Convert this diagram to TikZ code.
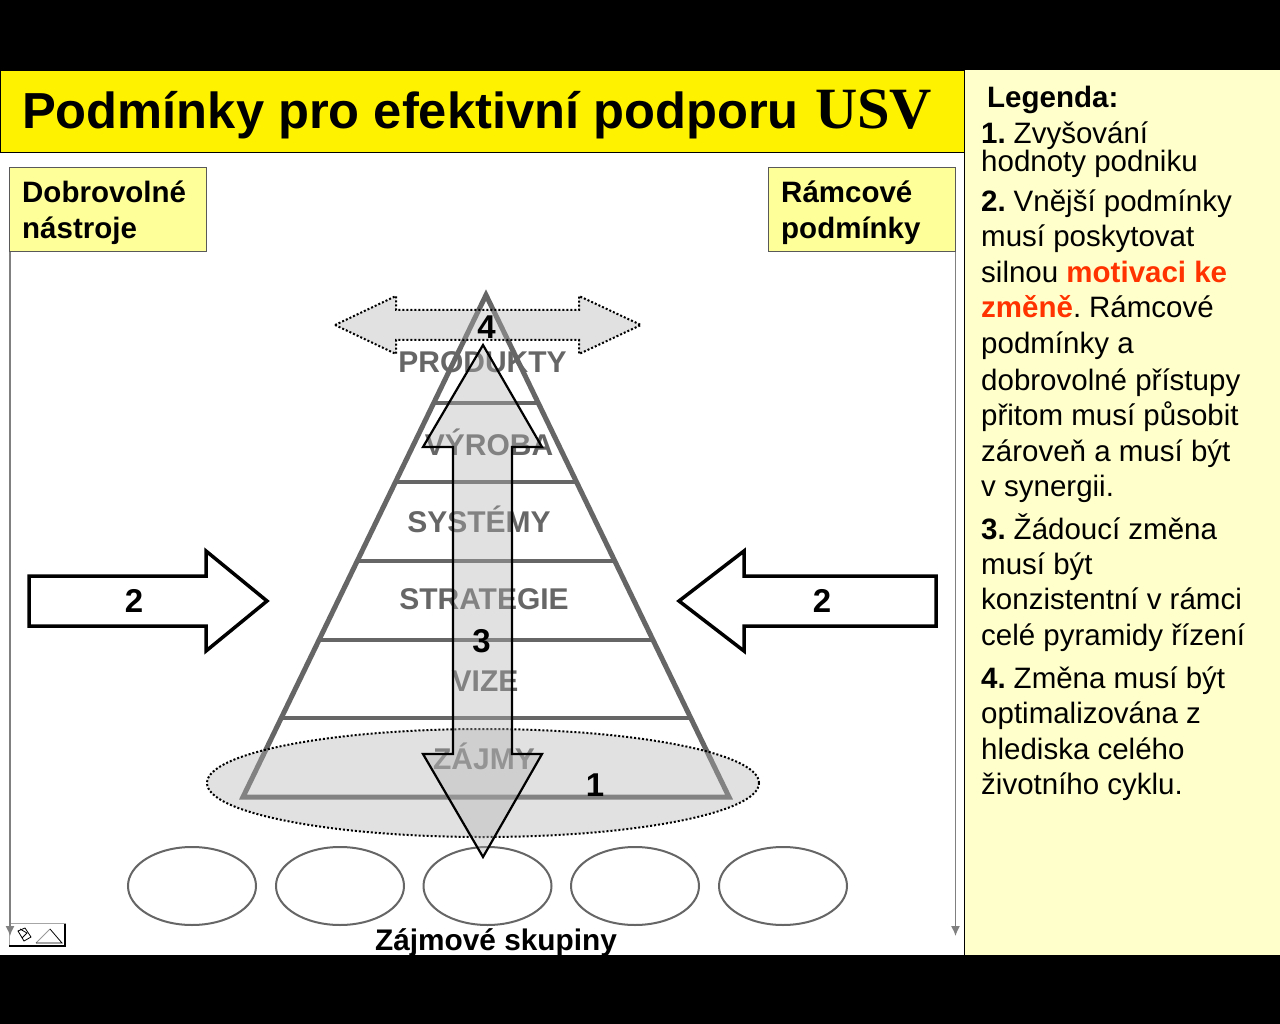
\documentclass[tikz,border=0pt]{standalone}
\usepackage{fontspec}
\usepackage[dvipsnames]{xcolor}
\usepackage{tikz}
\usetikzlibrary{arrows.meta, shapes}
\setmainfont{Liberation Sans}
\newfontfamily\serifbold[BoldFont={Liberation Serif Bold}]{Liberation Serif}
\definecolor{panel}{HTML}{FFFFCC}
\definecolor{tagfill}{HTML}{FFFF99}
\definecolor{hot}{HTML}{FF3300}
\definecolor{pyr}{HTML}{666666}
\newcommand{\fs}[1]{\fontsize{#1}{#1}\selectfont}
\newcommand{\nm}[1]{\textbf{#1}\hspace{-3pt} }
\tikzset{
  legline/.style={anchor=base west, inner sep=0pt, font=\fs{29.5}},
  level/.style={anchor=base, inner sep=0pt, font=\fs{30}\bfseries, text=pyr},
  num/.style={anchor=base, inner sep=0pt, font=\fs{33}\bfseries},
  tagbox/.style={draw=black!65, line width=0.7pt, fill=tagfill},
  tagtext/.style={anchor=base west, inner sep=0pt, font=\fs{29.5}\bfseries},
  shade/.style={fill=black!30, fill opacity=0.38},
  dots/.style={draw opacity=1, dash pattern=on 2pt off 2pt, line width=2pt},
  group/.style={ellipse, draw=pyr, line width=2pt, fill=white, minimum width=128pt, minimum height=78pt, inner sep=0pt},
  pyrline/.style={draw=pyr, line width=5pt},
  side/.style={draw=black!50, line width=1.3pt, -{Latex[length=10pt,width=9pt]}}
}
\begin{document}
\begin{tikzpicture}[x=1pt, y=-1pt]
  \useasboundingbox (0,0) rectangle (1280,1024);
  \fill[white] (0,70) rectangle (965,955);
  % right panel and title
  \fill[panel] (965,70) rectangle (1280,955);
  \draw[line width=1pt] (964.5,70) -- (964.5,955);
  \draw[fill=yellow, line width=1pt] (0.5,70.5) rectangle (964.5,153);
  \node[anchor=base west, inner sep=0pt, font=\fs{50.65}\bfseries] (title) at (22,129) {Podmínky pro efektivní podporu};
  \node[anchor=base west, inner sep=0pt, font=\fs{58.5}\serifbold\bfseries] (usv) at (815,129) {USV};
  % small toolbar mark
  \draw[black!35, fill=white] (9,923.5) rectangle (65,946);
  \draw[line width=1.5pt] (9,946) -- (65,946) -- (65,924);
  \draw[line width=0.8pt] (18,931) -- (25,928) -- (31,937) -- (24,941) -- cycle;
  \draw[line width=0.8pt] (20,929) -- (27,933) -- (22,938);
  \draw[black!40, line width=0.8pt] (36,943) -- (50,929);
  \draw[line width=0.8pt] (50,929) -- (62,943) -- (36,943);
  % side arrows
  \coordinate (leftup) at (10,251);
  \coordinate (leftdown) at (10,936);
  \coordinate (rightup) at (955.5,251);
  \coordinate (rightdown) at (955.5,936);
  \draw[side] (leftup) -- (leftdown);
  \draw[side] (rightup) -- (rightdown);
  % tags
  \draw[tagbox] (9.5,167.5) rectangle (206.5,251.5);
  \draw[tagbox] (768.5,167.5) rectangle (955.5,251.5);
  \node[tagtext] (tagla) at (22,203) {Dobrovolné};
  \node[tagtext] (taglb) at (22,239) {nástroje};
  \node[tagtext] (tagra) at (781,203) {Rámcové};
  \node[tagtext] (tagrb) at (781,239) {podmínky};
  % pyramid
  \draw[pyrline, line join=miter] (486,295) -- (729,797) -- (243,797) -- cycle;
  \draw[pyrline, line width=3.5pt] (434,403) -- (538,403);
  \draw[pyrline, line width=3.5pt] (396,482) -- (577,482);
  \draw[pyrline, line width=3.5pt] (358,561) -- (615,561);
  \draw[pyrline, line width=3.5pt] (320,640) -- (652,640);
  \draw[pyrline, line width=3.5pt] (282,718) -- (691,718);
  \node[level] (prod) at (482.5,373) {PRODUKTY};
  \node[level] (vyr) at (489,455) {VÝROBA};
  \node[level] (sys) at (479,532.5) {SYSTÉMY};
  \node[level] (strat) at (484,609) {STRATEGIE};
  \node[level] (viz) at (485,691.5) {VIZE};
  \node[level] (zaj) at (484,769.5) {ZÁJMY};
  % groups
  \node[group] (ga) at (192,886) {};
  \node[group] (gb) at (340,886) {};
  \node[group] (gc) at (487.5,886) {};
  \node[group] (gd) at (635,886) {};
  \node[group] (ge) at (783,886) {};
  % overlays
  \draw[shade, dots] (483,783) ellipse (276pt and 54pt);
  \draw[shade, dots] (335,325) -- (396,296) -- (396,310) -- (579,310) -- (579,296) -- (641,325) -- (579,354) -- (579,340) -- (396,340) -- (396,354) -- cycle;
  \draw[shade, draw opacity=1, line width=2.2pt] (483,345) -- (542,447) -- (512,447) -- (512,754) -- (542,754) -- (483,857) -- (423,754) -- (453,754) -- (453,447) -- (423,447) -- cycle;
  % big arrows
  \draw[fill=white, line width=3.5pt] (29,576) -- (206,576) -- (206,551) -- (267,601) -- (206,651) -- (206,626) -- (29,626) -- cycle;
  \draw[fill=white, line width=3.5pt] (936,576) -- (744,576) -- (744,551) -- (679,601) -- (744,651) -- (744,626) -- (936,626) -- cycle;
  \node[num] (nb) at (134,612.5) {2};
  \node[num] (nc) at (822,612.5) {2};
  \node[num] (nd) at (486.5,338) {4};
  \node[num] (ne) at (481.5,652.5) {3};
  \node[num] (nf) at (595,796) {1};
  \node[anchor=base, inner sep=0pt, font=\fs{29.8}\bfseries] (zs) at (496,950) {Zájmové skupiny};
  % legend
  \node[anchor=base west, inner sep=0pt, font=\fs{29.5}\bfseries] (leg) at (987,108) {Legenda:};
  \node[legline] (la) at (981,144) {\nm{1.}Zvyšování};
  \node[legline] (lb) at (981,172) {hodnoty podniku};
  \node[legline] (lc) at (981,212) {\nm{2.}Vnější podmínky};
  \node[legline] (ld) at (981,247) {musí poskytovat};
  \node[legline] (le) at (981,283) {silnou \textcolor{hot}{\textbf{motivaci ke}}};
  \node[legline] (lf) at (981,318) {\textcolor{hot}{\textbf{změně}}.\hspace{-3pt} Rámcové};
  \node[legline] (lg) at (981,354) {podmínky a};
  \node[legline] (lh) at (981,390) {dobrovolné přístupy};
  \node[legline] (li) at (981,425) {přitom musí působit};
  \node[legline] (lj) at (981,461) {zároveň a musí být};
  \node[legline] (lk) at (981,496) {v synergii.};
  \node[legline] (ll) at (981,539) {\nm{3.}Žádoucí změna};
  \node[legline] (lm) at (981,574) {musí být};
  \node[legline] (ln) at (981,609) {konzistentní v rámci};
  \node[legline] (lo) at (981,645) {celé pyramidy řízení};
  \node[legline] (lp) at (981,688) {\nm{4.}Změna musí být};
  \node[legline] (lq) at (981,723) {optimalizována z};
  \node[legline] (lr) at (981,759) {hlediska celého};
  \node[legline] (ls) at (981,794) {životního cyklu.};
  % black bands
  \fill[black] (0,0) rectangle (1280,70);
  \fill[black] (0,955) rectangle (1280,1024);
\end{tikzpicture}
\end{document}
